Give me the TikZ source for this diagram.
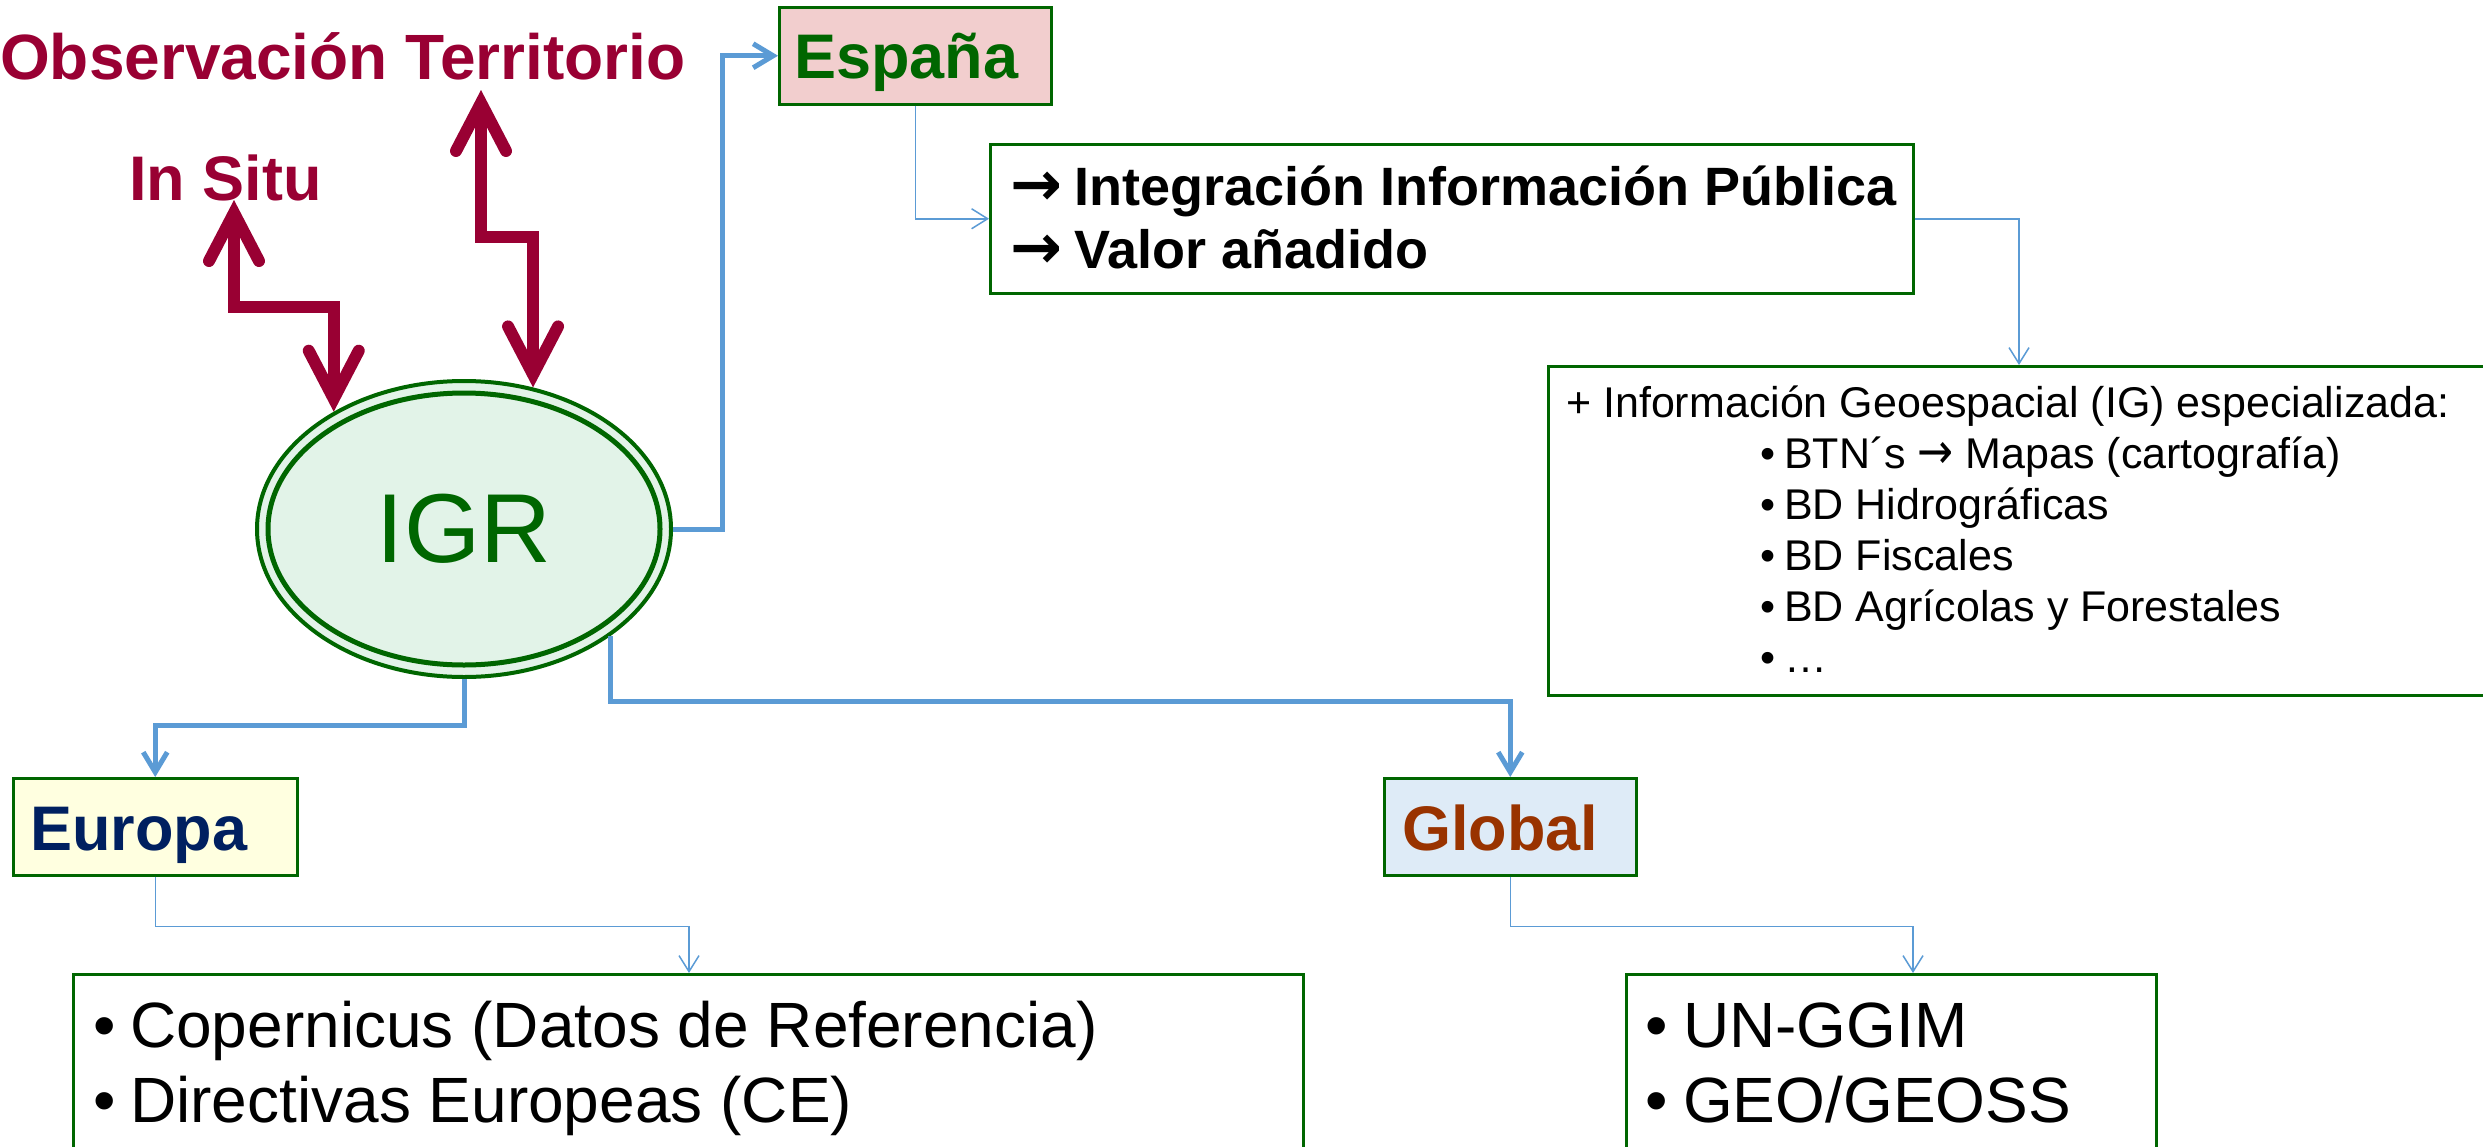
\documentclass[tikz,border=0pt]{standalone}
\usepackage{fontspec}
\setmainfont{Liberation Sans}
\newfontfamily\dvs{DejaVu Sans}
\usetikzlibrary{arrows.meta,shapes.geometric,calc}
\definecolor{maroon}{HTML}{990033}
\definecolor{dgreen}{HTML}{006600}
\definecolor{cblue}{HTML}{5B9BD5}
\definecolor{igrfill}{HTML}{E2F3E8}
\definecolor{espfill}{HTML}{F2CECE}
\definecolor{eufill}{HTML}{FFFFE0}
\definecolor{glfill}{HTML}{DEEBF7}
\definecolor{eutext}{HTML}{002060}
\definecolor{gltext}{HTML}{993300}
\newcommand\fsz[1]{\fontsize{#1pt}{#1pt}\selectfont}
\newcommand\barrow{{\dvs\bfseries\scalebox{1.15}[1.15]{→}}}
\newcommand\rarrow{{\dvs\scalebox{1.0}[1.15]{→}}}
\begin{document}
\begin{tikzpicture}[x=1pt,y=-1pt,
  box/.style={draw=dgreen, line width=2.5pt, rectangle, inner sep=0pt, anchor=north west},
  txt/.style={anchor=base west, inner sep=0pt},
  mar/.style={draw=maroon, line width=12pt, line join=miter,
    {Straight Barb[length=48pt,width=50pt,line cap=round,line join=miter]}-{Straight Barb[length=48pt,width=50pt,line cap=round,line join=miter]}},
  thickc/.style={draw=cblue, line width=5pt, -{Straight Barb[length=20pt,width=24pt]}},
  thinc/.style={draw=cblue, line width=1.5pt, -{Straight Barb[length=16pt,width=20pt]}}]
\useasboundingbox (0,0) rectangle (2483,1146);

% boxes
\node[box, fill=espfill, minimum width=272pt, minimum height=97pt] (espana) at (778,6) {};
\node[box, minimum width=923pt, minimum height=149pt] (box2) at (989,143) {};
\node[box, minimum width=960pt, minimum height=329pt] (box3) at (1547,365) {};
\node[box, fill=eufill, minimum width=284pt, minimum height=97pt] (europa) at (12,777) {};
\node[box, fill=glfill, minimum width=252pt, minimum height=97pt] (global) at (1383,777) {};
\node[box, minimum width=1230pt, minimum height=200pt] (eulist) at (72,973) {};
\node[box, minimum width=530pt, minimum height=200pt] (gllist) at (1625,973) {};

% IGR ellipse
\node[ellipse, draw=dgreen, line width=4pt, fill=igrfill, minimum width=414pt, minimum height=296pt,
  inner sep=0pt] (igr) at (464,529) {};
\draw[dgreen, line width=5pt] (igr.center) ellipse [x radius=196, y radius=136];
\node[text=dgreen, font=\fsz{98}, inner sep=0pt] (igrt) at (igr.center) {IGR};

% connectors
\draw[thickc] (igr.east) -- ++(49,0) |- (espana.west);
\draw[thickc] (igr.south) -- ++(0,46) -| (europa.north);
\draw[thickc] (igr.-36) -- ++(0,66) -| (global.north);
\draw[thinc] (espana.south) |- (box2.west);
\draw[thinc] (box2.east) -| ([xshift=472pt]box3.north west);
\draw[thinc] (europa.south) -- ++(0,50) -| ([xshift=617pt]eulist.north west);
\draw[thinc] (global.south) -- ++(0,50) -| ([xshift=288pt]gllist.north west);

\coordinate (istip) at (234,200);
\coordinate (obtip) at (481,90);
\draw[mar] (istip) -- (234,307) -| (igr.138);
\draw[mar] (obtip) -- (481,237) -| (igr.64);

% texts
\node[txt, text=maroon, font=\bfseries\fsz{64}] (obs) at (0,79) {Observación Territorio};
\node[txt, text=maroon, font=\bfseries\fsz{63}] (insitu) at (129,200) {In Situ};
\node[txt, text=dgreen, font=\bfseries\fsz{63}] (espanat) at (794,78) {España};
\node[txt, text=eutext, font=\bfseries\fsz{63}] (europat) at (30,850) {Europa};
\node[txt, text=gltext, font=\bfseries\fsz{63}] (globalt) at (1402,850) {Global};

\node[txt, font=\bfseries\fsz{54}] (b2a) at (1010,205) {\makebox[64pt][l]{\barrow}Integración Información Pública};
\node[txt, font=\bfseries\fsz{54}] (b2b) at (1010,268) {\makebox[64pt][l]{\barrow}Valor añadido};

\node[txt, font=\fsz{43}] (b3a) at (1566,417) {+ Información Geoespacial (IG) especializada:};
\node[txt, font=\fsz{43}] (b3b) at (1760,468) {\makebox[24pt][l]{•}BTN´s \rarrow{} Mapas (cartografía)};
\node[txt, font=\fsz{43}] (b3c) at (1760,519) {\makebox[24pt][l]{•}BD Hidrográficas};
\node[txt, font=\fsz{43}] (b3d) at (1760,570) {\makebox[24pt][l]{•}BD Fiscales};
\node[txt, font=\fsz{43}] (b3e) at (1760,621) {\makebox[24pt][l]{•}BD Agrícolas y Forestales};
\node[txt, font=\fsz{43}] (b3f) at (1760,672) {\makebox[24pt][l]{•}…};

\node[txt, font=\fsz{64}] (eu1) at (93,1047) {\makebox[37pt][l]{•}Copernicus (Datos de Referencia)};
\node[txt, font=\fsz{64}] (eu2) at (93,1122) {\makebox[37pt][l]{•}Directivas Europeas (CE)};
\node[txt, font=\fsz{64}] (gl1) at (1645,1047) {\makebox[38pt][l]{•}UN-GGIM};
\node[txt, font=\fsz{64}] (gl2) at (1645,1122) {\makebox[38pt][l]{•}GEO/GEOSS};
\end{tikzpicture}
\end{document}
